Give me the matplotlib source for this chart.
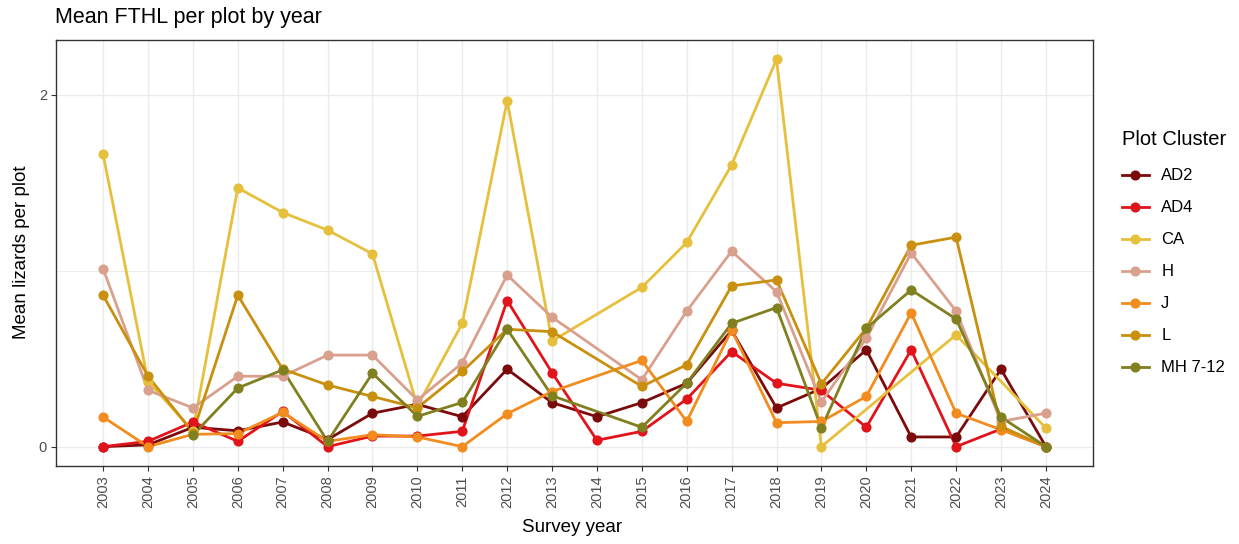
import numpy as np
import matplotlib
matplotlib.use("Agg")
import matplotlib.pyplot as plt
from matplotlib.lines import Line2D

plt.rcParams["font.family"] = ["Liberation Sans", "DejaVu Sans"]

years = list(range(2003, 2025))
nan = np.nan

clusters = ["AD2", "AD4", "CA", "H", "J", "L", "MH 7-12"]
colors = ["#7B0A0A", "#E0141A", "#E6C03C", "#D9A08E", "#F28C1E", "#C8900E", "#808020"]

ad2 = [0.00, 0.01, 0.11, 0.09, 0.14, 0.04, 0.19, 0.24, 0.17, 0.44, 0.25, 0.17,
       0.25, 0.36, 0.66, 0.22, 0.33, 0.55, 0.055, 0.055, 0.44, 0.00]
ad4 = [0.00, 0.03, 0.14, 0.03, 0.20, 0.00, 0.06, 0.06, 0.087, 0.83, 0.42, 0.036,
       0.087, 0.27, 0.54, 0.36, 0.32, 0.11, 0.55, 0.00, 0.10, 0.00]
ca = [1.66, 0.37, 0.09, 1.47, 1.33, 1.23, 1.095, 0.23, 0.70, 1.965, 0.60, nan,
      0.905, 1.16, 1.60, 2.20, 0.00, nan, nan, 0.635, nan, 0.106]
h = [1.01, 0.32, 0.22, 0.40, 0.40, 0.52, 0.52, 0.265, 0.475, 0.975, 0.735, nan,
     0.38, 0.77, 1.11, 0.88, 0.255, 0.615, 1.10, 0.77, 0.143, 0.19]
j = [0.168, 0.00, 0.07, 0.074, 0.195, 0.03, 0.068, 0.055, 0.00, 0.187, 0.313, nan,
     0.49, 0.143, 0.663, 0.136, 0.143, 0.285, 0.76, 0.19, 0.096, 0.00]
l = [0.86, 0.40, 0.08, 0.86, 0.44, 0.35, 0.285, 0.22, 0.427, 0.667, 0.653, nan,
     0.342, 0.465, 0.913, 0.947, 0.357, 0.672, 1.144, 1.19, 0.115, 0.00]
mh = [nan, nan, 0.066, 0.333, 0.436, 0.03, 0.417, 0.172, 0.251, 0.667, 0.289, nan,
      0.11, 0.361, 0.70, 0.79, 0.106, 0.672, 0.89, 0.725, 0.168, 0.00]

series = [ad2, ad4, ca, h, j, l, mh]

W, H = 1239, 544
fig = plt.figure(figsize=(W / 100, H / 100), dpi=100)
fig.patch.set_facecolor("white")

left, right, top, bottom = 56, 1093, 40, 466
ax = fig.add_axes([left / W, 1 - bottom / H, (right - left) / W, (bottom - top) / H])

LW, MS = 2.0, 7.3
yr = np.array(years, dtype=float)
for vals, col in zip(series, colors):
    v = np.array(vals, dtype=float)
    ok = ~np.isnan(v)
    ax.plot(yr[ok], v[ok], color=col, lw=LW, zorder=3, solid_capstyle="round")
for vals, col in zip(series, colors):
    v = np.array(vals, dtype=float)
    ok = ~np.isnan(v)
    ax.plot(yr[ok], v[ok], ls="none", marker="o", ms=MS, color=col,
            markeredgewidth=0, zorder=4)

span_x = years[-1] - years[0]
ax.set_xlim(years[0] - 0.05 * span_x, years[-1] + 0.05 * span_x)
ymax = 2.2
ax.set_ylim(-0.05 * ymax, ymax * 1.05)

ax.set_xticks(years)
ax.set_xticklabels([str(y) for y in years], rotation=90, fontsize=10.5, color="#4D4D4D")
ax.set_yticks([0, 2])
ax.set_yticks([1], minor=True)
ax.set_yticklabels(["0", "2"], fontsize=10.5, color="#4D4D4D")

ax.grid(True, which="major", color="#EBEBEB", lw=1.0, zorder=0)
ax.grid(True, which="minor", axis="y", color="#EBEBEB", lw=0.7, zorder=0)
ax.set_axisbelow(True)
ax.tick_params(axis="both", which="major", length=3.5, width=0.8, color="#333333", pad=3)
ax.tick_params(axis="y", which="minor", length=0)
for s in ax.spines.values():
    s.set_color("#333333")
    s.set_linewidth(1.0)

fig.text(55 / W, 1 - 17 / H, "Mean FTHL per plot by year", fontsize=15.5,
         ha="left", va="center", color="black")
fig.text(22 / W, 1 - 252 / H, "Mean lizards per plot", fontsize=13.5, rotation=90,
         ha="center", va="center", color="black")
fig.text(572 / W, 1 - 528 / H, "Survey year", fontsize=13.5,
         ha="center", va="center", color="black")

handles = [Line2D([0], [0], color=c, lw=LW, marker="o", ms=MS, markeredgewidth=0)
           for c in colors]
leg = fig.legend(handles, clusters, loc="upper left",
                 bbox_to_anchor=(1122 / W, 1 - 130 / H), frameon=False,
                 fontsize=12, title="Plot Cluster", title_fontsize=14.5,
                 handlelength=1.6, handletextpad=0.75, labelspacing=1.02,
                 borderaxespad=0, borderpad=0)
leg._legend_box.align = "left"
leg._legend_box.sep = 14

fig.savefig("out.png", dpi=100, facecolor="white")
